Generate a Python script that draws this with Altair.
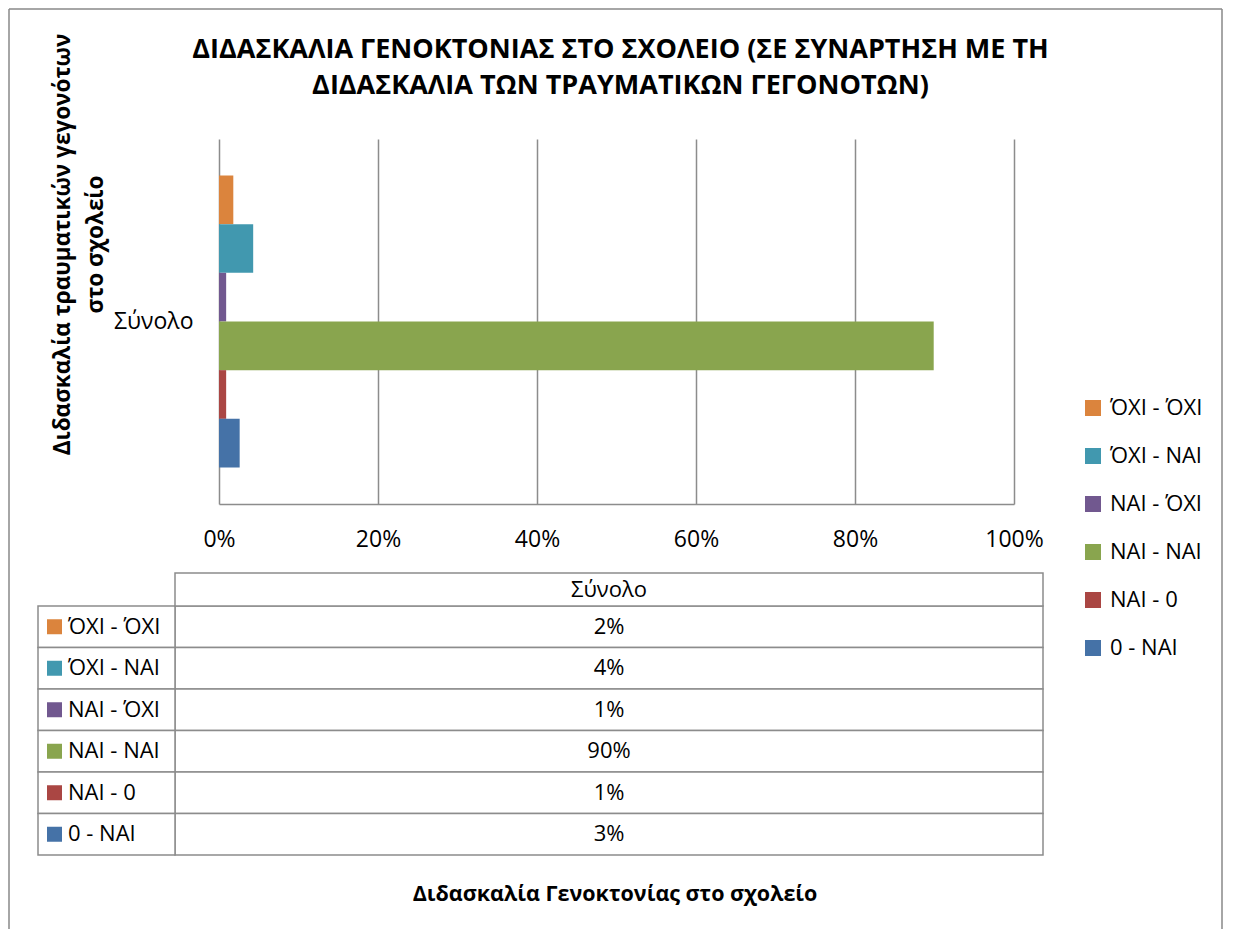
import altair as alt
import pandas as pd

# ---- data ----
series = ["ΌΧΙ - ΌΧΙ", "ΌΧΙ - ΝΑΙ", "ΝΑΙ - ΌΧΙ", "ΝΑΙ - ΝΑΙ", "ΝΑΙ - 0", "0 - ΝΑΙ"]
values = [0.018, 0.043, 0.009, 0.899, 0.009, 0.026]
colors = ["#DB843D", "#4198AF", "#71588F", "#89A54E", "#AA4643", "#4572A7"]
category = "Σύνολο"
x_ticks = [0, 0.2, 0.4, 0.6, 0.8, 1.0]
title_lines = ["ΔΙΔΑΣΚΑΛΙΑ ΓΕΝΟΚΤΟΝΙΑΣ ΣΤΟ ΣΧΟΛΕΙΟ (ΣΕ ΣΥΝΑΡΤΗΣΗ ΜΕ ΤΗ",
               "ΔΙΔΑΣΚΑΛΙΑ ΤΩΝ ΤΡΑΥΜΑΤΙΚΩΝ ΓΕΓΟΝΟΤΩΝ)"]
y_title_lines = ["Διδασκαλία τραυματικών γεγονότων", "στο σχολείο"]
x_title = "Διδασκαλία Γενοκτονίας στο σχολείο"

df = pd.DataFrame({"category": [category] * len(series), "series": series, "value": values})
hdf = pd.DataFrame({"h": [category]})

FONT = "Open Sans"
GRID = "#8c8c8c"
FRAME = "#888888"
FS = 22
LABEL_W = 137     # width of the table's label column
PLOT_OFF = 44     # gap between table value column start and plot's 0%
PLOT_W = 795

color = alt.Color(
    "series:N", sort=series, scale=alt.Scale(domain=series, range=colors),
    legend=alt.Legend(title=None, orient="none", legendX=907, legendY=258,
                      symbolType="square", symbolSize=256, symbolStrokeWidth=0,
                      symbolOpacity=1, labelFontSize=FS, labelFont=FONT,
                      labelColor="black", labelOffset=6, rowPadding=26))

bars = alt.Chart(df).mark_bar(strokeWidth=0).encode(
    x=alt.X("value:Q", scale=alt.Scale(domain=[0, 1], range=[PLOT_OFF, PLOT_OFF + PLOT_W]),
            axis=alt.Axis(values=x_ticks, format=".0%", grid=True, gridColor=GRID,
                          gridWidth=1.5, domainColor=GRID, domainWidth=1.5, ticks=False,
                          tickSize=0, labelFontSize=23, labelPadding=24, labelColor="black",
                          labelFlush=False, title=None)),
    y=alt.Y("category:N", scale=alt.Scale(paddingInner=0, paddingOuter=0.125),
            axis=alt.Axis(title=y_title_lines, ticks=False, tickSize=0, domain=False,
                          offset=-PLOT_OFF,
                          labelFontSize=23, labelPadding=26, labelColor="black",
                          titleFontSize=22.5, titleFontWeight="bold", titleColor="black",
                          titleX=-168, titleY=105, titleAngle=270, titleBaseline="top",
                          titleAlign="center", titleLineHeight=33)),
    yOffset=alt.YOffset("series:N", sort=series,
                        scale=alt.Scale(domain=series, paddingInner=0, paddingOuter=0)),
    color=color,
)

# chart-area border (decorative frame around the whole figure)
frame_style = dict(color=FRAME, strokeWidth=1.5)
frame_left = alt.Chart(hdf).mark_rule(**frame_style).encode(
    x=alt.value(-166), y=alt.value(-130), y2=alt.value(790))
frame_right = alt.Chart(hdf).mark_rule(**frame_style).encode(
    x=alt.value(1047), y=alt.value(-130), y2=alt.value(790))
frame_top = alt.Chart(hdf).mark_rule(**frame_style).encode(
    x=alt.value(-166), x2=alt.value(1047), y=alt.value(-130))

main = alt.layer(bars, frame_left, frame_right, frame_top).properties(
    width=PLOT_OFF + PLOT_W, height=365)

ycell = alt.Y("series:N", sort=series, axis=None,
              scale=alt.Scale(domain=series, paddingInner=0, paddingOuter=0))
cell_style = dict(fill="white", stroke=GRID, strokeWidth=1.5)

value_cells = alt.Chart(df).mark_rect(**cell_style).encode(y=ycell)
value_text = alt.Chart(df).mark_text(fontSize=FS, color="black").encode(
    y=ycell, text=alt.Text("value:Q", format=".0%"))
label_cells = alt.Chart(df).mark_rect(**cell_style).encode(
    y=ycell, x=alt.value(-LABEL_W), x2=alt.value(0))
swatch = alt.Chart(df).mark_square(size=225, opacity=1).encode(
    y=ycell, x=alt.value(-LABEL_W + 16.5), color=color)
label_text = alt.Chart(df).mark_text(align="left", fontSize=FS, color="black").encode(
    y=ycell, x=alt.value(-LABEL_W + 30), text="series:N")
header_cell = alt.Chart(hdf).mark_rect(**cell_style).encode(
    y=alt.value(-33), y2=alt.value(0))
header_text = alt.Chart(hdf).mark_text(fontSize=FS, color="black").encode(
    y=alt.value(-16.5), text="h:N")

table = alt.layer(value_cells, label_cells, header_cell, value_text, swatch,
                  label_text, header_text).properties(
    width=868, height=249,
    title=alt.TitleParams(x_title, orient="bottom", anchor="middle", fontSize=21.5,
                          fontWeight="bold", color="black", offset=28, dx=6))

chart = alt.vconcat(main, table, spacing=102, bounds="flush").resolve_scale(
    x="independent", y="independent"
).properties(
    title=alt.TitleParams(title_lines, fontSize=27, fontWeight="bold", anchor="middle",
                          lineHeight=36, color="black", offset=0, dy=92, dx=5),
    padding={"left": 0, "top": 0, "right": 0, "bottom": 0},
).configure(font=FONT, background="white").configure_view(stroke=None, strokeWidth=0)

chart.save("out.html", embed_options={"renderer": "svg", "actions": False})
